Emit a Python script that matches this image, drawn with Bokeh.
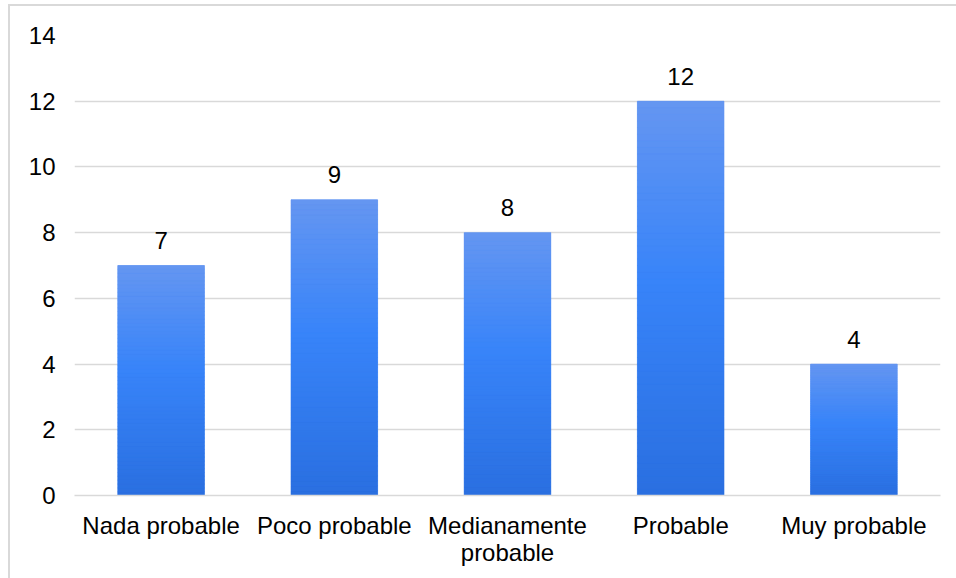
from bokeh.plotting import figure
from bokeh.models import ColumnDataSource, FactorRange, Range1d, FixedTicker
from bokeh.layouts import column
from bokeh.core.properties import value
from bokeh.embed import file_html
from bokeh.resources import INLINE
import numpy as np

# Data
categories = ["Nada probable", "Poco probable", "Medianamente\nprobable", "Probable", "Muy probable"]
counts = [7, 9, 8, 12, 4]
y_ticks = [0, 2, 4, 6, 8, 10, 12, 14]

FONT = "Liberation Sans"
GRID = "#d9d9d9"

# Vertical gradient stops (bottom -> middle -> top) for every bar
stops_t = [0.0, 0.55, 1.0]
stops_rgb = np.array([[42, 111, 224], [56, 132, 249], [101, 150, 241]], dtype=float)


def grad_color(t):
    rgb = [np.interp(t, stops_t, stops_rgb[:, k]) for k in range(3)]
    return "#%02x%02x%02x" % tuple(int(round(c)) for c in rgb)


# Slice each bar into thin bands so its fill runs from dark (base) to light (top)
N_BANDS = 60
band_x, band_bottom, band_top, band_color = [], [], [], []
for cat, v in zip(categories, counts):
    for k in range(N_BANDS):
        band_x.append(cat)
        band_bottom.append(v * k / N_BANDS)
        band_top.append(v * (k + 1) / N_BANDS)
        band_color.append(grad_color((k + 0.5) / N_BANDS))

bars = ColumnDataSource(dict(x=categories, top=counts, label=[str(c) for c in counts]))
bands = ColumnDataSource(dict(x=band_x, bottom=band_bottom, top=band_top, color=band_color))

p = figure(
    x_range=FactorRange(*categories),
    y_range=Range1d(0, 14),
    width=946,
    height=572,
    output_backend="svg",
    toolbar_location=None,
    min_border_left=64,
    min_border_right=16,
    min_border_top=29,
    min_border_bottom=83,
)
p.outline_line_color = None
p.background_fill_color = "white"
p.border_fill_color = "white"

p.vbar(x="x", top="top", width=0.5, source=bars, fill_color=grad_color(0.5), line_color=None)
p.vbar(x="x", bottom="bottom", top="top", width=0.5, source=bands,
       fill_color="color", line_color="color", line_width=0.6)

p.text(x="x", y="top", text="label", source=bars,
       text_align="center", text_baseline="alphabetic", y_offset=-25,
       text_font=value(FONT), text_font_size="24px", text_color="black")

# Grid
p.xgrid.grid_line_color = None
p.ygrid.grid_line_color = GRID
p.ygrid.grid_line_width = 1.5
p.ygrid.level = "underlay"

# Y axis
p.yaxis.ticker = FixedTicker(ticks=y_ticks)
p.yaxis.axis_line_color = None
p.yaxis.major_tick_line_color = None
p.yaxis.minor_tick_line_color = None
p.yaxis.major_tick_out = 0
p.yaxis.major_label_standoff = 19
p.yaxis.major_label_text_font = FONT
p.yaxis.major_label_text_font_size = "24px"
p.yaxis.major_label_text_color = "black"

# X axis
p.xaxis.axis_line_color = GRID
p.xaxis.axis_line_width = 1.5
p.xaxis.major_tick_line_color = None
p.xaxis.minor_tick_line_color = None
p.xaxis.major_tick_out = 0
p.xaxis.major_label_standoff = 16
p.xaxis.major_label_text_font = FONT
p.xaxis.major_label_text_font_size = "24px"
p.xaxis.major_label_text_line_height = 1.0
p.xaxis.major_label_text_color = "black"

page = column(p, styles={
    "border-left": "2px solid #d9d9d9",
    "border-top": "2px solid #d9d9d9",
    "margin-left": "8px",
    "margin-top": "4px",
    "background": "white",
})

open("out.html", "w").write(file_html(page, INLINE))
